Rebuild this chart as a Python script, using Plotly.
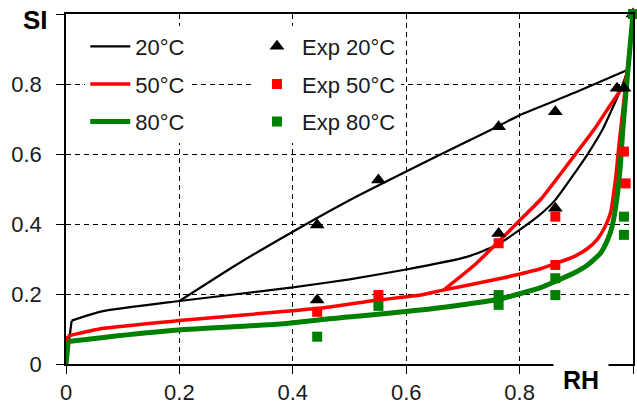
import plotly.graph_objects as go

# ---- model curves (RH, SI) ----
# steep initial rise at RH ~ 0
rh_20_rise = [0, 0.01]
si_20_rise = [0, 0.124]
rh_20_ads = [0.01, 0.065, 0.2, 0.4, 0.5, 0.6, 0.707, 0.76, 0.8, 0.837, 0.863, 0.919, 0.946, 0.978, 0.99, 1.0]
si_20_ads = [0.124, 0.151, 0.18, 0.219, 0.242, 0.27, 0.306, 0.34, 0.383, 0.428, 0.469, 0.597, 0.669, 0.783, 0.84, 1.0]
rh_20_des = [0.99, 0.9, 0.8, 0.763, 0.7, 0.6, 0.5, 0.4, 0.3, 0.2]
si_20_des = [0.84, 0.777, 0.711, 0.68, 0.63, 0.55, 0.468, 0.378, 0.283, 0.18]

rh_50_rise = [0, 0.003]
si_50_rise = [0, 0.08]
rh_50_ads = [0.003, 0.066, 0.2, 0.378, 0.445, 0.551, 0.625, 0.665, 0.768, 0.837, 0.863, 0.896, 0.92, 0.937, 0.95, 0.96, 0.969, 0.975, 0.981, 0.99, 1.0]
si_50_ads = [0.08, 0.102, 0.124, 0.149, 0.159, 0.183, 0.197, 0.211, 0.245, 0.272, 0.287, 0.307, 0.33, 0.356, 0.39, 0.43, 0.526, 0.621, 0.71, 0.84, 1.0]
rh_50_des = [0.99, 0.985, 0.96, 0.931, 0.88, 0.837, 0.8, 0.76, 0.72, 0.665]
si_50_des = [0.83, 0.8, 0.74, 0.669, 0.56, 0.47, 0.41, 0.345, 0.282, 0.21]

rh_80_rise = [0, 0.004]
si_80_rise = [0, 0.064]
rh_80 = [0.004, 0.066, 0.198, 0.378, 0.445, 0.625, 0.763, 0.837, 0.863, 0.896, 0.92, 0.943, 0.955, 0.963, 0.972, 0.978, 0.982, 0.99, 1.0]
si_80 = [0.064, 0.076, 0.097, 0.114, 0.126, 0.154, 0.185, 0.218, 0.236, 0.26, 0.283, 0.317, 0.354, 0.392, 0.478, 0.574, 0.669, 0.82, 1.0]

# ---- experimental points ----
exp20_rh = [0.443, 0.443, 0.551, 0.763, 0.763, 0.863, 0.863, 0.972, 0.984, 1.0]
exp20_si = [0.397, 0.183, 0.526, 0.678, 0.373, 0.721, 0.445, 0.788, 0.788, 1.0]
exp50_rh = [0.443, 0.551, 0.763, 0.863, 0.863, 0.984, 0.987, 1.0]
exp50_si = [0.149, 0.197, 0.345, 0.421, 0.283, 0.607, 0.516, 1.0]
exp80_rh = [0.443, 0.551, 0.763, 0.763, 0.863, 0.863, 0.984, 0.984, 1.0]
exp80_si = [0.078, 0.166, 0.197, 0.169, 0.245, 0.197, 0.421, 0.369, 1.0]

x_ticks = [0, 0.2, 0.4, 0.6, 0.8, 1.0]
x_labels = ["0", "0.2", "0.4", "0.6", "0.8", "1"]
y_ticks = [0, 0.2, 0.4, 0.6, 0.8, 1.0]
y_labels = ["0", "0.2", "0.4", "0.6", "0.8", ""]

FONT = "Liberation Sans, Arial, sans-serif"
TXT = "#1a1a1a"

fig = go.Figure()

def join(*parts):
    out = []
    for i, p in enumerate(parts):
        if i:
            out.append(None)
        out.extend(p)
    return out

x20 = join(rh_20_rise, rh_20_ads, rh_20_des)
y20 = join(si_20_rise, si_20_ads, si_20_des)
x50 = join(rh_50_rise, rh_50_ads, rh_50_des)
y50 = join(si_50_rise, si_50_ads, si_50_des)
x80 = join(rh_80_rise, rh_80)
y80 = join(si_80_rise, si_80)

SM = 0.5
fig.add_trace(go.Scatter(x=x20, y=y20, mode="lines", name="20°C",
                         line=dict(color="black", width=2.2, shape="spline", smoothing=SM),
                         legend="legend", legendgroup="a"))
fig.add_trace(go.Scatter(x=x50, y=y50, mode="lines", name="50°C",
                         line=dict(color="#ff0000", width=3.5, shape="spline", smoothing=SM),
                         legend="legend", legendgroup="b"))
fig.add_trace(go.Scatter(x=x80, y=y80, mode="lines", name="80°C",
                         line=dict(color="#008000", width=5, shape="spline", smoothing=SM),
                         legend="legend", legendgroup="c"))

fig.add_trace(go.Scatter(x=exp20_rh, y=exp20_si, mode="markers", name="Exp 20°C",
                         marker=dict(symbol="triangle-up", size=13, color="black"),
                         cliponaxis=False, legend="legend2", legendgroup="d"))
fig.add_trace(go.Scatter(x=exp50_rh, y=exp50_si, mode="markers", name="Exp 50°C",
                         marker=dict(symbol="square", size=10, color="#ff0000"),
                         cliponaxis=False, legend="legend2", legendgroup="e"))
fig.add_trace(go.Scatter(x=exp80_rh, y=exp80_si, mode="markers", name="Exp 80°C",
                         marker=dict(symbol="square", size=10, color="#008000"),
                         cliponaxis=False, legend="legend2", legendgroup="f"))

axis_common = dict(
    range=[0, 1], showline=True, linecolor="black", linewidth=1.5, mirror=True,
    ticks="outside", ticklen=8, tickcolor="black", tickwidth=1.2,
    showgrid=True, gridcolor="black", gridwidth=1, griddash="5px,4px",
    zeroline=False, tickfont=dict(family=FONT, size=22, color=TXT), automargin=False,
)

fig.update_layout(
    width=637, height=405,
    margin=dict(l=66, r=4, t=14, b=41),
    plot_bgcolor="white", paper_bgcolor="white",
    xaxis=dict(**axis_common, tickvals=x_ticks, ticktext=x_labels),
    yaxis=dict(**axis_common, tickvals=y_ticks, ticktext=y_labels, ticklabelstandoff=10),
    legend=dict(x=0.034, y=0.967, xanchor="left", yanchor="top", bgcolor="white",
                font=dict(family=FONT, size=22, color=TXT), tracegroupgap=6,
                itemwidth=40),
    legend2=dict(x=0.328, y=0.967, xanchor="left", yanchor="top", bgcolor="white",
                 font=dict(family=FONT, size=22, color=TXT), tracegroupgap=6,
                 itemwidth=40),
    annotations=[
        dict(text="<b>SI</b>", xref="paper", yref="paper", x=-0.053, y=0.983,
             xanchor="center", yanchor="middle", showarrow=False,
             font=dict(family=FONT, size=26, color="black")),
        dict(text="<b>RH</b>", xref="paper", yref="paper", x=0.908, y=-0.045,
             xanchor="center", yanchor="middle", showarrow=False,
             width=52, height=40, bgcolor="white",
             font=dict(family=FONT, size=25, color="black")),
    ],
)

fig.write_html("out.html", config={"displayModeBar": False},
               post_script="document.body.style.margin='0';")
